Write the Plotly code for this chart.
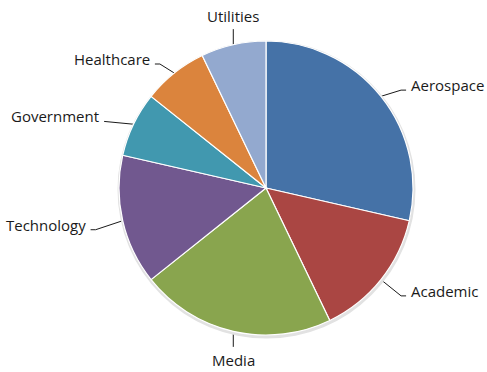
import numpy as np
import plotly.graph_objects as go

categories = ["Aerospace", "Academic", "Media", "Technology", "Government", "Healthcare", "Utilities"]
values = [8, 4, 6, 4, 2, 2, 2]
colors = ["#4572A7", "#AA4643", "#89A54E", "#71588F", "#4198AF", "#DB843D", "#93A9CF"]

W, H = 487, 372
CX, CY, R = 266, 188, 147
LA, LB = 183, 165  # label ellipse semi-axes
FONT = "Open Sans, Lato, sans-serif"


def dom(cx, cy, r):
    return dict(x=[(cx - r) / W, (cx + r) / W], y=[(H - cy - r) / H, (H - cy + r) / H])


fig = go.Figure()

# soft shadow
fig.add_trace(go.Pie(values=[1], marker=dict(colors=["#e2e2e2"]), textinfo="none",
                     hoverinfo="skip", showlegend=False, sort=False,
                     domain=dom(CX + 0.5, CY + 1.5, R + 2)))

fig.add_trace(go.Pie(labels=categories, values=values, sort=False, direction="clockwise",
                     rotation=0, textinfo="none", showlegend=False,
                     marker=dict(colors=colors, line=dict(color="white", width=1.2)),
                     domain=dom(CX, CY, R)))

vals = np.array(values, dtype=float)
cum = np.cumsum(vals)
mid = (cum - vals / 2) / cum[-1] * 2 * np.pi

annotations = []
for name, a in zip(categories, mid):
    s, c = np.sin(a), np.cos(a)
    x0, y0 = CX + R * s, CY - R * c
    px, py = CX + LA * s, CY - LB * c
    if abs(s) > 0.5:
        side = 1 if s > 0 else -1
        xs = [x0, px - 8 * side, px - 3 * side]
        ys = [y0, py + 5, py + 5]
        annotations.append(dict(x=px, y=py, text=name, showarrow=False,
                                xanchor="left" if side > 0 else "right", yanchor="middle",
                                xref="x", yref="y"))
    else:
        up = c > 0
        xs = [x0, x0]
        ys = [y0, py + (2 if up else -2)]
        annotations.append(dict(x=x0, y=py + (1 if up else -1), text=name, showarrow=False,
                                xanchor="center", yanchor="bottom" if up else "top",
                                xref="x", yref="y"))
    fig.add_trace(go.Scatter(x=xs, y=ys, mode="lines", line=dict(color="#1a1a1a", width=1),
                             hoverinfo="skip", showlegend=False))

fig.update_layout(
    width=W, height=H, margin=dict(l=0, r=0, t=0, b=0),
    paper_bgcolor="white", plot_bgcolor="rgba(0,0,0,0)",
    font=dict(family=FONT, size=15, color="#1a1a1a"),
    xaxis=dict(range=[0, W], visible=False, fixedrange=True, domain=[0, 1]),
    yaxis=dict(range=[H, 0], visible=False, fixedrange=True, domain=[0, 1]),
    annotations=annotations,
    showlegend=False,
)

fig.write_html("out.html", config={"displayModeBar": False},
               post_script="document.body.style.margin='0';document.body.style.padding='0';")
